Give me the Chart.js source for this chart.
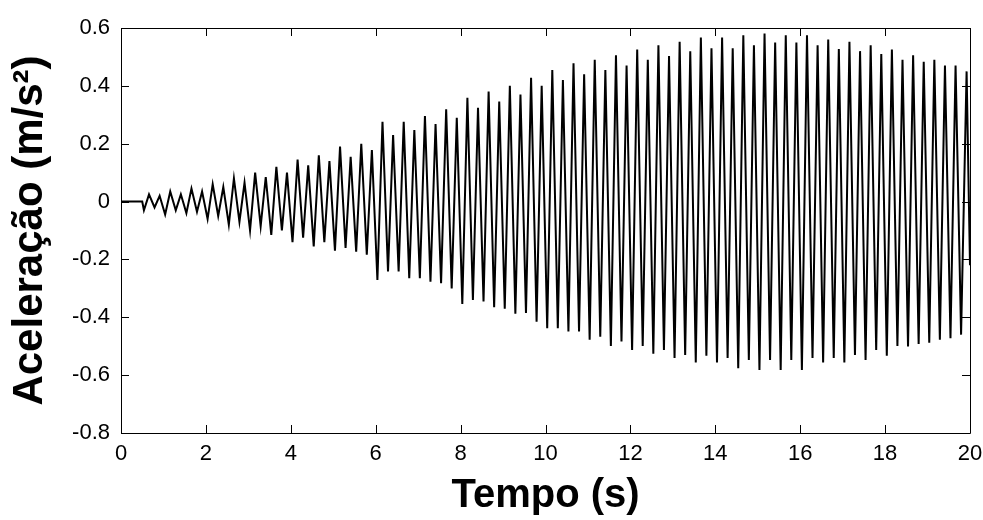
<!DOCTYPE html>
<html>
<head>
<meta charset="utf-8">
<script src="https://cdn.jsdelivr.net/npm/chart.js@4"></script>
<style>
  html, body { margin: 0; padding: 0; background: #fff; }
  #wrap { width: 983px; height: 520px; }
</style>
</head>
<body>
<div id="wrap"><canvas id="accChart" width="983" height="520"></canvas></div>
<script>
// extremos do sinal (tempo em s, aceleração em m/s²)
const tempo = [
  0, 0.5, 0.54, 0.66, 0.79, 0.91,
  1.04, 1.16, 1.29, 1.41, 1.54, 1.66, 1.79, 1.91,
  2.04, 2.16, 2.29, 2.41, 2.54, 2.66, 2.79, 2.91,
  3.04, 3.16, 3.29, 3.41, 3.54, 3.66, 3.79, 3.91,
  4.04, 4.16, 4.29, 4.41, 4.54, 4.66, 4.79, 4.91,
  5.04, 5.16, 5.29, 5.41, 5.54, 5.66, 5.79, 5.91,
  6.04, 6.16, 6.29, 6.41, 6.54, 6.66, 6.79, 6.91,
  7.04, 7.16, 7.29, 7.41, 7.54, 7.66, 7.79, 7.91,
  8.04, 8.16, 8.29, 8.41, 8.54, 8.66, 8.79, 8.91,
  9.04, 9.16, 9.29, 9.41, 9.54, 9.66, 9.79, 9.91,
  10.04, 10.16, 10.29, 10.41, 10.54, 10.66, 10.79, 10.91,
  11.04, 11.16, 11.29, 11.41, 11.54, 11.66, 11.79, 11.91,
  12.04, 12.16, 12.29, 12.41, 12.54, 12.66, 12.79, 12.91,
  13.04, 13.16, 13.29, 13.41, 13.54, 13.66, 13.79, 13.91,
  14.04, 14.16, 14.29, 14.41, 14.54, 14.66, 14.79, 14.91,
  15.04, 15.16, 15.29, 15.41, 15.54, 15.66, 15.79, 15.91,
  16.04, 16.16, 16.29, 16.41, 16.54, 16.66, 16.79, 16.91,
  17.04, 17.16, 17.29, 17.41, 17.54, 17.66, 17.79, 17.91,
  18.04, 18.16, 18.29, 18.41, 18.54, 18.66, 18.79, 18.91,
  19.04, 19.16, 19.29, 19.41, 19.54, 19.66, 19.79, 19.92,
  20.0
];

const aceleracao = [
  0, 0, -0.03, 0.025, -0.02, 0.02,
  -0.045, 0.035, -0.03, 0.025, -0.04, 0.045, -0.035, 0.035,
  -0.06, 0.06, -0.05, 0.05, -0.08, 0.08, -0.07, 0.065,
  -0.10, 0.10, -0.085, 0.085, -0.115, 0.12, -0.10, 0.10,
  -0.14, 0.145, -0.125, 0.125, -0.155, 0.16, -0.14, 0.14,
  -0.17, 0.19, -0.16, 0.155, -0.173, 0.20, -0.184, 0.178,
  -0.271, 0.276, -0.242, 0.23, -0.242, 0.276, -0.265, 0.247,
  -0.265, 0.296, -0.277, 0.268, -0.282, 0.319, -0.30, 0.29,
  -0.354, 0.359, -0.34, 0.324, -0.345, 0.38, -0.365, 0.346,
  -0.37, 0.40, -0.388, 0.37, -0.385, 0.428, -0.415, 0.40,
  -0.438, 0.455, -0.438, 0.42, -0.449, 0.478, -0.449, 0.44,
  -0.478, 0.49, -0.467, 0.455, -0.499, 0.506, -0.484, 0.47,
  -0.513, 0.526, -0.499, 0.49, -0.526, 0.54, -0.513, 0.503,
  -0.541, 0.552, -0.53, 0.52, -0.556, 0.567, -0.533, 0.53,
  -0.556, 0.567, -0.541, 0.53, -0.576, 0.575, -0.548, 0.54,
  -0.582, 0.581, -0.548, 0.55, -0.582, 0.575, -0.548, 0.55,
  -0.582, 0.575, -0.541, 0.54, -0.556, 0.56, -0.541, 0.527,
  -0.556, 0.552, -0.53, 0.52, -0.548, 0.54, -0.513, 0.51,
  -0.533, 0.526, -0.499, 0.49, -0.501, 0.506, -0.492, 0.483,
  -0.488, 0.49, -0.478, 0.47, -0.472, 0.47, -0.46, 0.45,
  -0.22
];

const xTicks = [0, 2, 4, 6, 8, 10, 12, 14, 16, 18, 20];
const yTicks = [-0.8, -0.6, -0.4, -0.2, 0, 0.2, 0.4, 0.6];

const points = tempo.map((t, i) => ({x: t, y: aceleracao[i]}));

// moldura e marcas internas nos quatro lados (estilo MATLAB)
const frameTicks = {
  id: 'frameTicks',
  afterDraw(chart) {
    const {ctx, chartArea: a, scales} = chart;
    const len = 8;
    ctx.save();
    ctx.strokeStyle = '#000';
    ctx.lineWidth = 1;
    ctx.beginPath();
    ctx.rect(a.left + 0.5, a.top + 0.5, a.right - a.left, a.bottom - a.top);
    xTicks.forEach(v => {
      const px = Math.round(scales.x.getPixelForValue(v)) + 0.5;
      ctx.moveTo(px, a.bottom);
      ctx.lineTo(px, a.bottom - len);
      ctx.moveTo(px, a.top);
      ctx.lineTo(px, a.top + len);
    });
    yTicks.forEach(v => {
      const py = Math.round(scales.y.getPixelForValue(v)) + 0.5;
      ctx.moveTo(a.left, py);
      ctx.lineTo(a.left + len, py);
      ctx.moveTo(a.right, py);
      ctx.lineTo(a.right - len, py);
    });
    ctx.stroke();
    ctx.restore();
  }
};

const tickFont = {family: 'Liberation Sans', size: 22};

new Chart(document.getElementById('accChart'), {
  type: 'line',
  data: {
    datasets: [{
      data: points,
      borderColor: '#000',
      borderWidth: 2,
      pointRadius: 0,
      tension: 0,
      fill: false
    }]
  },
  options: {
    responsive: false,
    animation: false,
    layout: {padding: {top: 28, right: 13, left: 0, bottom: 0}},
    plugins: {legend: {display: false}, tooltip: {enabled: false}},
    scales: {
      x: {
        type: 'linear',
        min: 0,
        max: 20,
        afterBuildTicks: s => { s.ticks = xTicks.map(v => ({value: v})); },
        afterFit: s => { s.height = 87; s.paddingLeft = 0; s.paddingRight = 0; },
        grid: {display: false, drawTicks: false},
        border: {display: false},
        ticks: {color: '#000', font: tickFont, padding: 8, maxRotation: 0},
        title: {
          display: true,
          text: 'Tempo (s)',
          color: '#000',
          font: {family: 'Liberation Sans', size: 40, weight: 'bold'},
          padding: {top: 0, bottom: 0}
        }
      },
      y: {
        type: 'linear',
        min: -0.8,
        max: 0.6,
        afterBuildTicks: s => { s.ticks = yTicks.map(v => ({value: v})); },
        afterFit: s => { s.width = 121; s.paddingTop = 0; s.paddingBottom = 0; },
        grid: {display: false, drawTicks: false},
        border: {display: false},
        ticks: {
          color: '#000',
          font: tickFont,
          padding: 11,
          callback: v => String(parseFloat(v.toFixed(1)))
        },
        title: {
          display: true,
          text: 'Aceleração (m/s²)',
          color: '#000',
          font: {family: 'Liberation Sans', size: 42, weight: 'bold'},
          padding: {top: 5, bottom: 0}
        }
      }
    }
  },
  plugins: [frameTicks]
});
</script>
</body>
</html>
